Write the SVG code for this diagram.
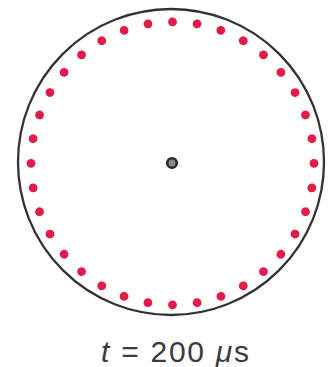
<svg xmlns="http://www.w3.org/2000/svg" width="329" height="367" viewBox="0 0 329 367">
<style>
.dot{fill:#e31b4b}
.lbl{font-family:"Liberation Sans",Arial,sans-serif;font-size:30px;fill:#3a3a3a}
</style>
<defs><circle id="d" class="dot" r="4.4"/></defs>
<rect width="329" height="367" fill="#fff"/>
<g id="ring"><circle cx="171" cy="162" r="153" fill="none" stroke="#333" stroke-width="2.3"/></g>
<g id="dots" transform="translate(172.5,163.3)">
<use href="#d" x="0" y="-141.5"/><use href="#d" transform="rotate(10)" y="-141.5"/><use href="#d" transform="rotate(20)" y="-141.5"/><use href="#d" transform="rotate(30)" y="-141.5"/><use href="#d" transform="rotate(40)" y="-141.5"/><use href="#d" transform="rotate(50)" y="-141.5"/><use href="#d" transform="rotate(60)" y="-141.5"/><use href="#d" transform="rotate(70)" y="-141.5"/><use href="#d" transform="rotate(80)" y="-141.5"/><use href="#d" transform="rotate(90)" y="-141.5"/><use href="#d" transform="rotate(100)" y="-141.5"/><use href="#d" transform="rotate(110)" y="-141.5"/><use href="#d" transform="rotate(120)" y="-141.5"/><use href="#d" transform="rotate(130)" y="-141.5"/><use href="#d" transform="rotate(140)" y="-141.5"/><use href="#d" transform="rotate(150)" y="-141.5"/><use href="#d" transform="rotate(160)" y="-141.5"/><use href="#d" transform="rotate(170)" y="-141.5"/><use href="#d" transform="rotate(180)" y="-141.5"/><use href="#d" transform="rotate(190)" y="-141.5"/><use href="#d" transform="rotate(200)" y="-141.5"/><use href="#d" transform="rotate(210)" y="-141.5"/><use href="#d" transform="rotate(220)" y="-141.5"/><use href="#d" transform="rotate(230)" y="-141.5"/><use href="#d" transform="rotate(240)" y="-141.5"/><use href="#d" transform="rotate(250)" y="-141.5"/><use href="#d" transform="rotate(260)" y="-141.5"/><use href="#d" transform="rotate(270)" y="-141.5"/><use href="#d" transform="rotate(280)" y="-141.5"/><use href="#d" transform="rotate(290)" y="-141.5"/><use href="#d" transform="rotate(300)" y="-141.5"/><use href="#d" transform="rotate(310)" y="-141.5"/><use href="#d" transform="rotate(320)" y="-141.5"/><use href="#d" transform="rotate(330)" y="-141.5"/><use href="#d" transform="rotate(340)" y="-141.5"/><use href="#d" transform="rotate(350)" y="-141.5"/>
</g>
<g id="center"><circle cx="172" cy="163" r="4.8" fill="#8a8a8a" stroke="#2a2a2a" stroke-width="2.6"/></g>
<text class="lbl" x="101" y="362" textLength="148" lengthAdjust="spacing"><tspan font-style="italic">t</tspan> = 200 <tspan font-style="italic">μ</tspan>s</text>
</svg>
